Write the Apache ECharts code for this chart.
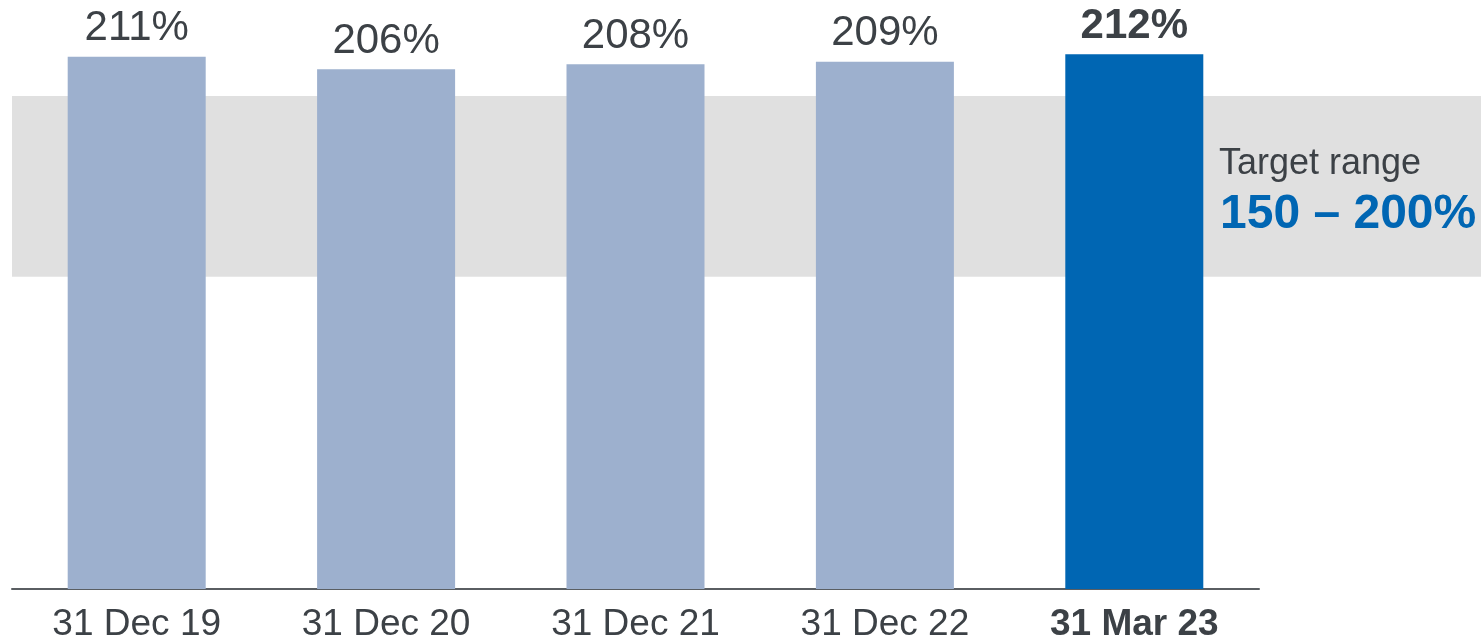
<!DOCTYPE html>
<html>
<head>
    <meta charset="utf-8">
    <title>Target range chart</title>
    <script src="https://cdn.jsdelivr.net/npm/echarts@6/dist/echarts.min.js"></script>
    <style>
        html, body { margin: 0; padding: 0; background: #fff; }
        #chart { width: 1481px; height: 643px; }
    </style>
</head>
<body>
<div id="chart"></div>
<script type="text/javascript">
    // data
    var categories = ['31 Dec 19', '31 Dec 20', '31 Dec 21', '31 Dec 22', '31 Mar 23'];
    var ratios = [211, 206, 208, 209, 212];
    // grey band, as drawn against the bar scale
    var bandRange = [123.8, 195.4];
    var bandTitle = 'Target range';
    var bandText = '150 – 200%';

    var FONT = 'Arial, "Liberation Sans", sans-serif';
    var TEXT = '#3c4146';
    var BLUE = '#0066b3';
    var LIGHT = '#9db0ce';
    var last = categories.length - 1;

    var barData = ratios.map(function (v, i) {
        var hi = i === last;
        return {
            value: v,
            itemStyle: { color: hi ? BLUE : LIGHT },
            label: { fontWeight: hi ? 'bold' : 'normal' }
        };
    });

    var myChart = echarts.init(document.getElementById('chart'));
    var option = {
        animation: false,
        title: [{
            text: bandTitle,
            left: 1214,
            top: 141,
            textStyle: { fontFamily: FONT, fontSize: 36, fontWeight: 'normal', color: TEXT, lineHeight: 36 }
        }, {
            text: bandText,
            left: 1215,
            top: 186,
            textStyle: { fontFamily: FONT, fontSize: 48, fontWeight: 'bold', color: BLUE, lineHeight: 48 }
        }],
        grid: [
            { left: 12, right: 222, top: 34, bottom: 54 },
            { left: 12, right: 0, top: 34, bottom: 54 }
        ],
        xAxis: [{
            type: 'category',
            gridIndex: 0,
            data: categories,
            axisTick: { show: false },
            axisLine: { lineStyle: { color: '#5a5e62', width: 2 } },
            axisLabel: {
                interval: 0,
                margin: 17,
                fontFamily: FONT,
                fontSize: 37,
                color: TEXT,
                formatter: function (v, i) {
                    return i === last ? '{b|' + v + '}' : v;
                },
                rich: { b: { fontFamily: FONT, fontSize: 37, fontWeight: 'bold', color: TEXT } }
            }
        }, {
            type: 'value',
            gridIndex: 1,
            min: 0,
            max: 1,
            show: false
        }],
        yAxis: [{
            type: 'value',
            gridIndex: 0,
            min: 0,
            max: 220,
            show: false
        }, {
            type: 'value',
            gridIndex: 1,
            min: 0,
            max: 220,
            show: false
        }],
        series: [{
            // holds only the grey band, spanning the full width
            type: 'line',
            xAxisIndex: 1,
            yAxisIndex: 1,
            data: [],
            silent: true,
            z: 0,
            markArea: {
                silent: true,
                itemStyle: { color: '#e0e0e0', opacity: 1 },
                label: { show: false },
                emphasis: { disabled: true },
                data: [[{ yAxis: bandRange[1] }, { yAxis: bandRange[0] }]]
            }
        }, {
            type: 'bar',
            xAxisIndex: 0,
            yAxisIndex: 0,
            barWidth: 138,
            z: 3,
            data: barData,
            label: {
                show: true,
                position: 'top',
                distance: 7,
                fontFamily: FONT,
                fontSize: 42,
                color: TEXT,
                formatter: '{c}%'
            }
        }]
    };
    myChart.setOption(option);
</script>
</body>
</html>
